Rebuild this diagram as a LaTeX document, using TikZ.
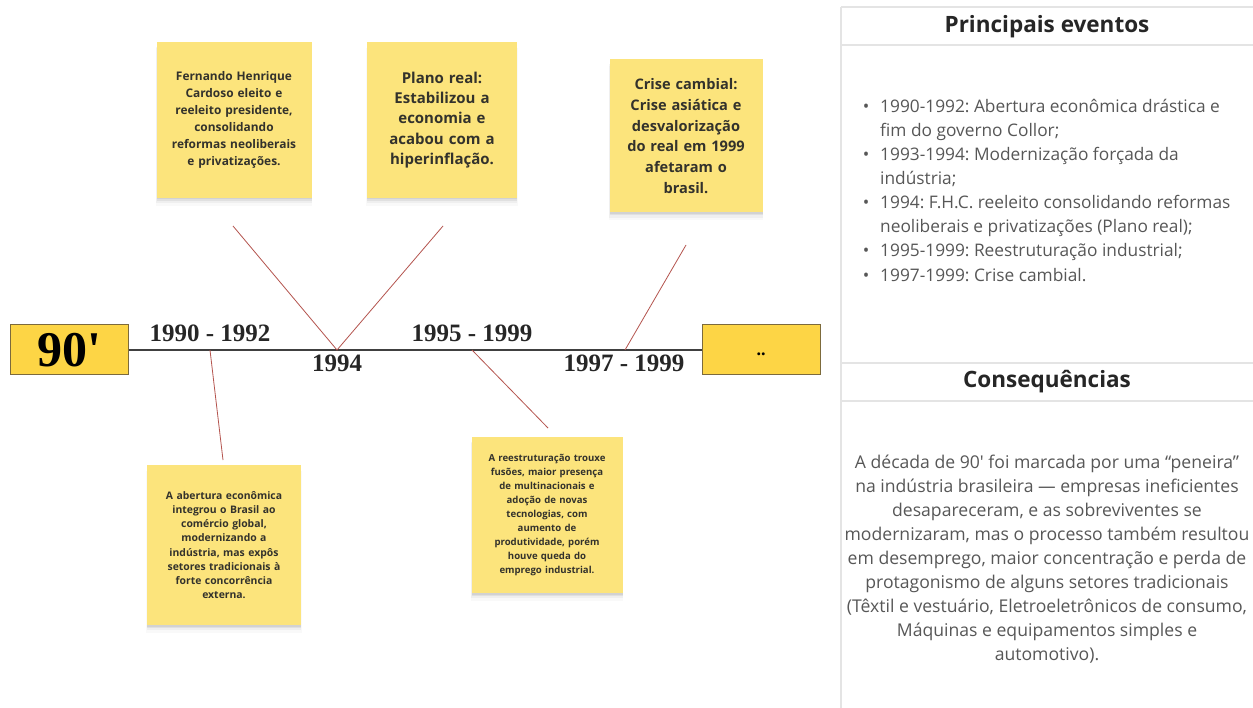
\documentclass[tikz,border=0pt]{standalone}
\usepackage{fontspec}
\setmainfont{Liberation Serif}
\setsansfont{Open Sans}
\usetikzlibrary{shadows}
\frenchspacing
\definecolor{sticky}{HTML}{FCE47C}
\definecolor{boxfill}{HTML}{FDD545}
\definecolor{boxline}{HTML}{7C6A3C}
\definecolor{link}{HTML}{B4544E}
\definecolor{panel}{HTML}{E4E4E4}
\definecolor{notetext}{HTML}{33322C}
\definecolor{bodytext}{HTML}{575757}
\tikzset{
  note/.style={fill=sticky, draw=none, inner sep=0pt, align=center,
    text=notetext, font=\sffamily\bfseries,
    drop shadow={shadow xshift=0pt, shadow yshift=-7pt, shadow scale=1.01, opacity=0.025, fill=black},
    drop shadow={shadow xshift=0pt, shadow yshift=-5pt, shadow scale=1.005, opacity=0.04, fill=black},
    drop shadow={shadow xshift=0pt, shadow yshift=-3pt, opacity=0.06, fill=black},
    drop shadow={shadow xshift=0pt, shadow yshift=-1.5pt, opacity=0.06, fill=black}},
  yearbox/.style={fill=boxfill, draw=boxline, line width=1pt, minimum width=118pt,
    minimum height=50pt, inner sep=0pt, font=\rmfamily\bfseries},
  yearlabel/.style={font=\rmfamily\bfseries\fontsize{25}{30}\selectfont, anchor=base, inner sep=0pt, text=black!85},
  link/.style={draw=link, line width=0.8pt},
  rule/.style={draw=panel, line width=1.4pt},
  title/.style={font=\sffamily\bfseries\fontsize{22.5}{26}\selectfont, text=black!85},
  evline/.style={font=\sffamily\fontsize{17.3}{20}\selectfont, text=bodytext, anchor=base west, inner sep=0pt},
  csline/.style={font=\sffamily\fontsize{17.6}{20}\selectfont, text=bodytext, anchor=base, inner sep=0pt}
}
\begin{document}
\begin{tikzpicture}[x=1pt,y=-1pt]
\useasboundingbox[fill=white] (0,0) rectangle (1253,708);

% timeline
\node[yearbox, font=\rmfamily\bfseries\fontsize{50}{56}\selectfont] (start) at (69,350) {90\textquotesingle};
\node[yearbox, font=\rmfamily\bfseries\fontsize{18}{20}\selectfont] (end) at (761,350) {\vphantom{1}..};
\draw[line width=2pt, black!75] (start.east) -- (end.west);

\node[yearlabel] (y1) at (210,342) {1990 - 1992};
\node[yearlabel] (y2) at (337,372) {1994};
\node[yearlabel] (y3) at (472,342) {1995 - 1999};
\node[yearlabel] (y4) at (624,372) {1997 - 1999};

\coordinate (p1) at (210,350);
\coordinate (p2) at (337,350);
\coordinate (p3) at (472,350);
\coordinate (p4) at (625,350);

% sticky notes
\node[note, minimum width=155pt, minimum height=156pt, text width=150pt,
  font=\sffamily\bfseries\fontsize{11.9}{17}\selectfont] (fhc) at (234,120)
  {Fernando Henrique\\Cardoso eleito e\\reeleito presidente,\\consolidando\\reformas neoliberais\\e privatizações.};
\node[note, minimum width=150pt, minimum height=156pt, text width=140pt,
  font=\sffamily\bfseries\fontsize{15}{20.4}\selectfont] (plano) at (442,120)
  {Plano real:\\Estabilizou a\\economia e\\acabou com a\\hiperinflação.};
\node[note, minimum width=153pt, minimum height=153pt, text width=143pt,
  font=\sffamily\bfseries\fontsize{14.6}{20.7}\selectfont] (crise) at (686,136)
  {Crise cambial:\\Crise asiática e\\desvalorização\\do real em 1999\\afetaram o\\brasil.};
\node[note, minimum width=154pt, minimum height=160pt, text width=148pt,
  font=\sffamily\bfseries\fontsize{10.4}{14.2}\selectfont] (abert) at (224,545)
  {A abertura econômica\\integrou o Brasil ao\\comércio global,\\modernizando a\\indústria, mas expôs\\setores tradicionais à\\forte concorrência\\externa.};
\node[note, minimum width=151pt, minimum height=156pt, text width=145pt,
  font=\sffamily\bfseries\fontsize{9.6}{14}\selectfont] (reest) at (547,515)
  {A reestruturação trouxe\\fusões, maior presença\\de multinacionais e\\adoção de novas\\tecnologias, com\\aumento de\\produtividade, porém\\houve queda do\\emprego industrial.};

% connectors from the timeline towards the notes
\coordinate (fhcend) at (233,226);
\coordinate (planoend) at (443,226);
\coordinate (criseend) at (686,245);
\coordinate (abertend) at (223,460);
\coordinate (reestend) at (548,428);
\draw[link] (fhcend) -- (p2) -- (planoend);
\draw[link] (p4) -- (criseend);
\draw[link] (p1) -- (abertend);
\draw[link] (p3) -- (reestend);

% side panel
\draw[rule] (841,7) -- (1253,7);
\draw[rule] (841,7) -- (841,708);
\draw[rule] (841,45) -- (1253,45);
\draw[rule] (841,363) -- (1253,363);
\draw[rule] (841,401) -- (1253,401);

\node[title] (t1) at (1047,27) {Principais eventos};
\node[title] (t2) at (1047,382) {Consequências};

\foreach \yy/\txt [count=\i] in {
  113/{1990-1992: Abertura econômica drástica e},
  137/{fim do governo Collor;},
  161/{1993-1994: Modernização forçada da},
  185/{indústria;},
  209/{1994: F.H.C. reeleito consolidando reformas},
  233/{neoliberais e privatizações (Plano real);},
  257/{1995-1999: Reestruturação industrial;},
  282/{1997-1999: Crise cambial.}}
  \node[evline] (ev\i) at (880,\yy) {\txt};
\foreach \yy [count=\i] in {113,161,209,257,282}
  \node[evline, anchor=base] (bul\i) at (866,\yy) {•};

\foreach \yy/\txt [count=\i] in {
  468/{A década de 90\textquotesingle{} foi marcada por uma “peneira”},
  492/{na indústria brasileira — empresas ineficientes},
  516/{desapareceram, e as sobreviventes se},
  540/{modernizaram, mas o processo também resultou},
  564/{em desemprego, maior concentração e perda de},
  588/{protagonismo de alguns setores tradicionais},
  612/{(Têxtil e vestuário, Eletroeletrônicos de consumo,},
  636/{Máquinas e equipamentos simples e},
  660/{automotivo).}}
  \node[csline] (cs\i) at (1047,\yy) {\txt};
\end{tikzpicture}
\end{document}
